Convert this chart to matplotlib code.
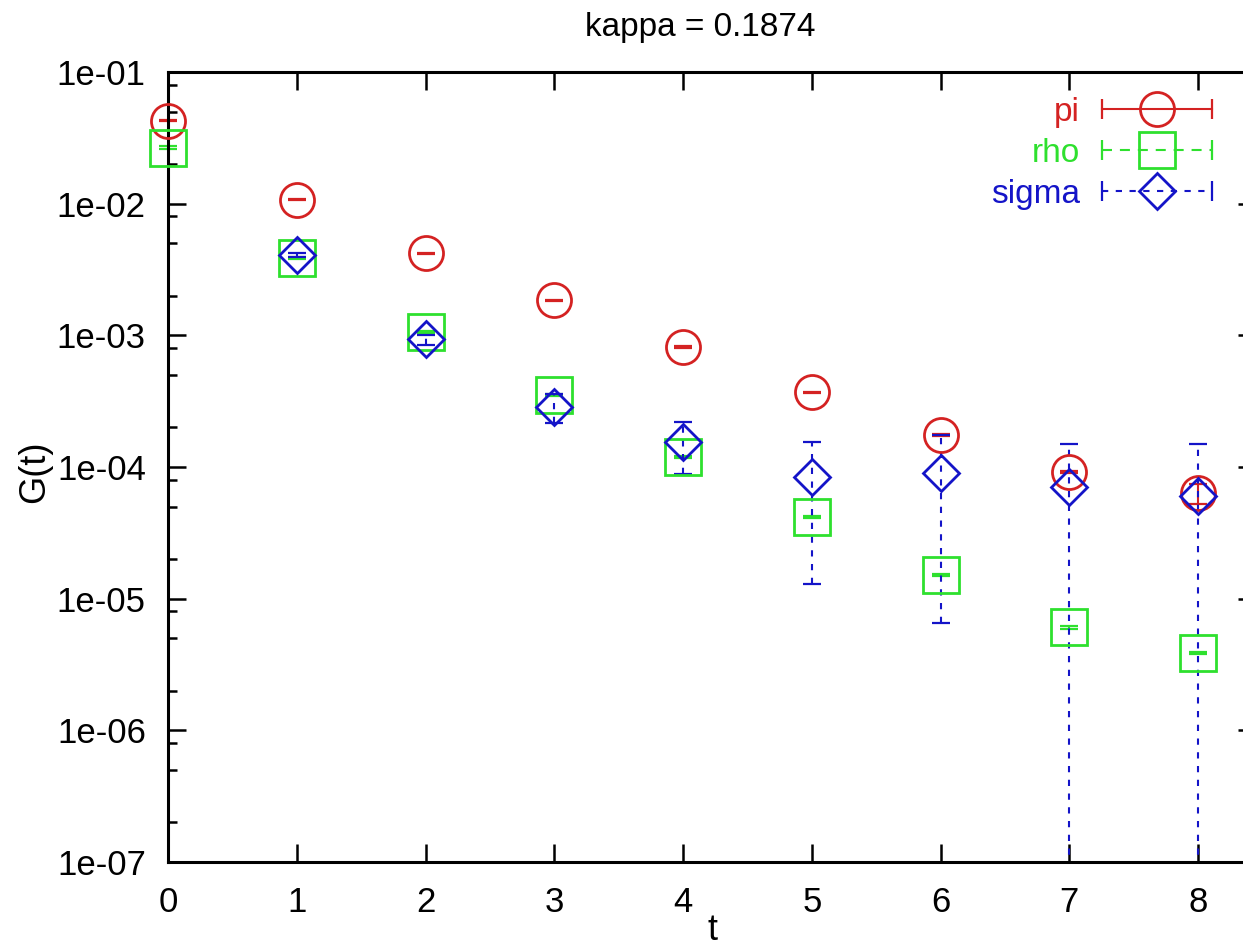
import matplotlib

matplotlib.use("Agg")

import matplotlib.pyplot as plt
import numpy as np
from matplotlib.legend_handler import HandlerLine2D
from matplotlib.lines import Line2D
from matplotlib.ticker import FixedLocator, FuncFormatter, LogLocator, NullFormatter

plt.rcParams["font.family"] = ["Liberation Sans", "DejaVu Sans"]

TITLE = "kappa = 0.1874"

# time slices
t_pi = [0, 1, 2, 3, 4, 5, 6, 7, 8]
t_rho = [0, 1, 2, 3, 4, 5, 6, 7, 8]
t_sigma = [1, 2, 3, 4, 5, 6, 7, 8]

pi_val = [4.25e-2, 1.07e-2, 4.2e-3, 1.85e-3, 8.15e-4, 3.7e-4, 1.75e-4, 9.2e-5, 6.3e-5]
pi_err = [4e-4, 1e-4, 4e-5, 2e-5, 8e-6, 4e-6, 2e-6, 1.5e-6, 1.1e-5]

rho_val = [2.67e-2, 3.86e-3, 1.06e-3, 3.52e-4, 1.19e-4, 4.17e-5, 1.51e-5, 6.04e-6, 3.87e-6]
rho_err = [5e-4, 8e-5, 2e-5, 7e-6, 2.5e-6, 9e-7, 3e-7, 1.2e-7, 8e-8]

sigma_val = [4.1e-3, 9.3e-4, 2.88e-4, 1.54e-4, 8.4e-5, 9.05e-5, 7.1e-5, 6.0e-5]
sigma_err = [1.5e-4, 8e-5, 7.3e-5, 6.6e-5, 7.1e-5, 8.4e-5, 7.9e-5, 9.0e-5]

Y_MAJOR = [1e-7, 1e-6, 1e-5, 1e-4, 1e-3, 1e-2, 1e-1]
X_MAJOR = [0, 1, 2, 3, 4, 5, 6, 7, 8]

RED = "#d42222"
GREEN = "#2ee02e"
BLUE = "#1414c8"

W, H = 1243, 950
MEW = 2.0


def add_series(ax, x, y, err, *, color, marker, ms, dash, clip):
    eb = ax.errorbar(
        x,
        y,
        yerr=err,
        fmt="none",
        ecolor=color,
        elinewidth=1.5,
        capsize=6.2,
        capthick=1.6,
        zorder=2,
    )
    if dash is not None:
        for coll in eb[2]:
            coll.set_linestyle(dash)
    if not clip:
        for art in list(eb[1]) + list(eb[2]):
            art.set_clip_on(False)
    ax.plot(
        x,
        y,
        linestyle="none",
        marker=marker,
        markersize=ms,
        markerfacecolor="none",
        markeredgecolor=color,
        markeredgewidth=MEW,
        zorder=3,
        clip_on=False,
    )
    body = Line2D(
        [],
        [],
        color=color,
        linestyle=dash if dash is not None else "-",
        linewidth=1.5,
        marker=marker,
        markersize=ms,
        markerfacecolor="none",
        markeredgecolor=color,
        markeredgewidth=MEW,
    )
    caps = Line2D([], [], color=color, linestyle="none", marker="|", markersize=14, markeredgewidth=1.6)
    return body, caps


fig = plt.figure(figsize=(W / 100, H / 100), dpi=100)
ax = fig.add_axes([168 / W, (H - 862) / H, (1256 - 168) / W, (862 - 72) / H])

specs = [
    (t_pi, pi_val, pi_err, RED, "o", 24.5, None, "pi", False),
    (t_rho, rho_val, rho_err, GREEN, "s", 26, (0, (4.8, 3.8)), "rho", False),
    (t_sigma, sigma_val, sigma_err, BLUE, "D", 18.5, (0, (3.0, 3.6)), "sigma", True),
]
handles = []
labels = []
hmap = {}
for x, y, e, c, m, ms, dash, lab, clip in specs:
    body, caps = add_series(ax, x, y, e, color=c, marker=m, ms=ms, dash=dash, clip=clip)
    hmap[body] = HandlerLine2D(numpoints=1)
    hmap[caps] = HandlerLine2D(numpoints=2, marker_pad=0)
    handles.append((body, caps))
    labels.append(lab)

ax.set_yscale("log")
ax.set_ylim(1e-7, 1e-1)
ax.set_xlim(0, 8.45)

ax.yaxis.set_major_locator(FixedLocator(Y_MAJOR))
ax.yaxis.set_major_formatter(FuncFormatter(lambda v, p: f"{v:.0e}"))
ax.yaxis.set_minor_locator(LogLocator(base=10, subs=[2, 5, 8]))
ax.yaxis.set_minor_formatter(NullFormatter())
ax.xaxis.set_major_locator(FixedLocator(X_MAJOR))

ax.tick_params(axis="both", which="both", direction="in", top=True, right=True, colors="black")
ax.tick_params(axis="both", which="major", length=13, width=1.8, labelsize=25)
ax.tick_params(axis="both", which="minor", length=6.5, width=1.8)
ax.tick_params(axis="y", which="major", pad=16)
ax.tick_params(axis="x", which="major", pad=17)
for sp in ax.spines.values():
    sp.set_linewidth(2.2)

leg = ax.legend(
    handles,
    labels,
    handler_map=hmap,
    loc="upper right",
    bbox_to_anchor=(1212 / W, 1 - 97 / H),
    bbox_transform=fig.transFigure,
    frameon=False,
    markerfirst=False,
    fontsize=24,
    handlelength=3.3,
    handletextpad=0.66,
    labelspacing=0.3,
    borderpad=0,
    borderaxespad=0,
)
for txt, spec in zip(leg.get_texts(), specs):
    txt.set_color(spec[3])

fig.text(700 / W, 1 - 36 / H, TITLE, ha="center", va="baseline", fontsize=24)
fig.text(712 / W, 1 - 930 / H, "t", ha="center", va="center", fontsize=26)
fig.text(35 / W, 1 - 472 / H, "G(t)", ha="center", va="center", rotation=90, fontsize=26)

fig.savefig("out.png", dpi=100)
